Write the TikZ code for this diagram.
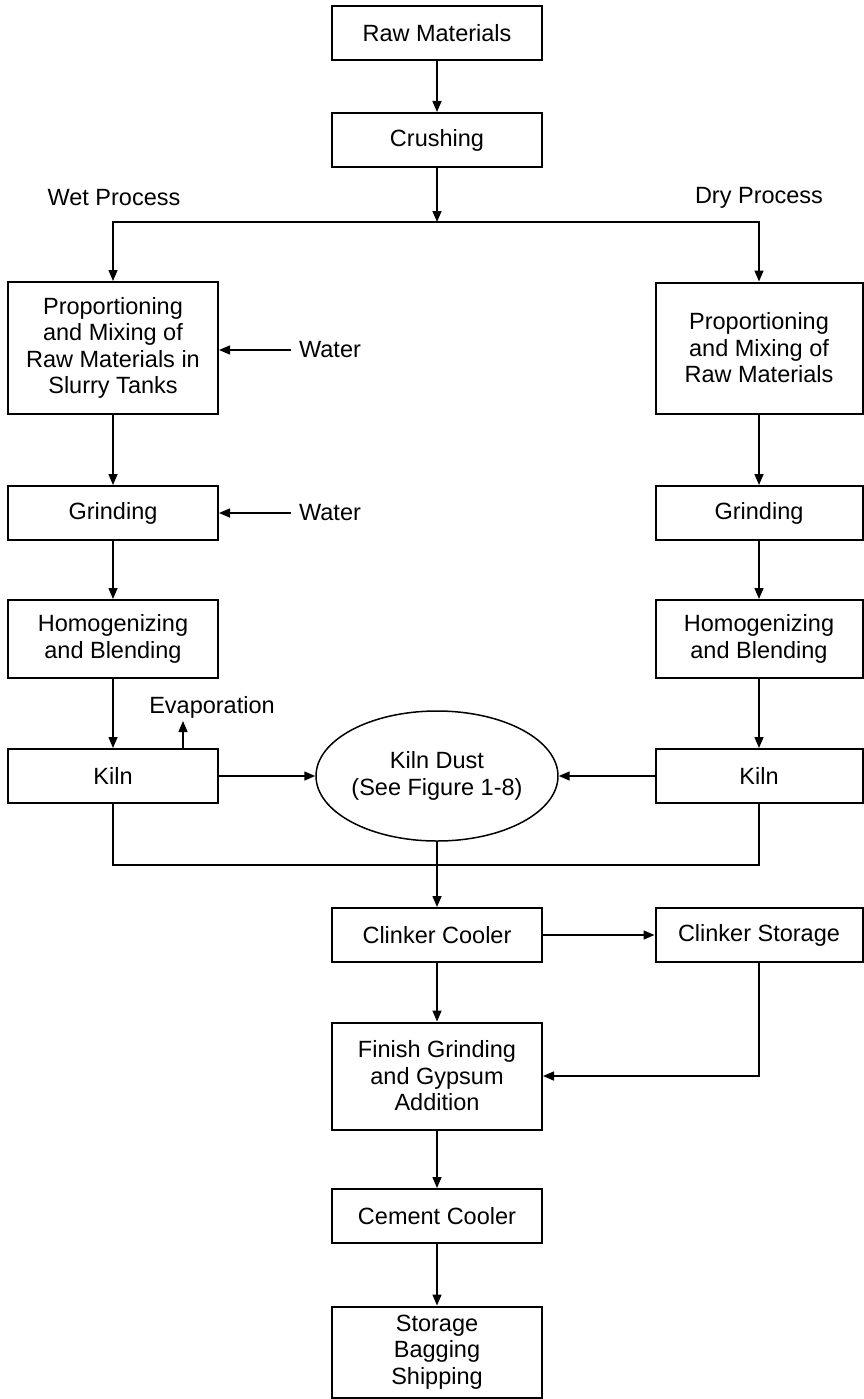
\documentclass[tikz,border=0pt]{standalone}
\usepackage{fontspec}
\setmainfont{Liberation Sans}
\usetikzlibrary{arrows.meta,shapes.geometric}
\begin{document}
\begin{tikzpicture}[x=1pt,y=-1pt,
  every node/.style={font=\fontsize{23.5pt}{26.5pt}\selectfont},
  box/.style={draw,line width=2pt,minimum width=210pt,minimum height=54pt,
    inner sep=0pt,align=center},
  rbox/.style={box,minimum width=207pt},
  label/.style={inner sep=0pt},
  link/.style={line width=1.5pt},
  arr/.style={link,-{Triangle[length=11pt,width=9pt]}}]
\useasboundingbox (0,0) rectangle (864,1399);

% main column, top
\node[box] (raw) at (437,33) {Raw Materials};
\node[box] (crush) at (437,140) {Crushing};
\coordinate (split) at (437,222);

% branch labels
\node[label] (wet) at (114,198) {Wet Process};
\node[label] (dry) at (759,198) {Dry Process};

% wet process column
\node[box,minimum height=132pt] (lprop) at (113,348)
  {Proportioning\\and Mixing of\\Raw Materials in\\Slurry Tanks};
\node[box] (lgrind) at (113,513) {Grinding};
\node[box,minimum height=78pt] (lhom) at (113,639) {Homogenizing\\and Blending};
\node[box] (lkiln) at (113,776) {Kiln};
\node[label] (water1) at (330,350) {Water};
\node[label] (water2) at (330,513) {Water};
\node[label] (evap) at (212,707) {Evaporation};
\coordinate (evtip) at (183,721);

% dry process column
\node[rbox,minimum height=131pt] (rprop) at (759,348)
  {Proportioning\\and Mixing of\\Raw Materials};
\node[rbox] (rgrind) at (759,513) {Grinding};
\node[rbox,minimum height=78pt] (rhom) at (759,639) {Homogenizing\\and Blending};
\node[rbox] (rkiln) at (759,776) {Kiln};

% kiln dust
\node[draw,ellipse,line width=1.5pt,minimum width=232pt,minimum height=130pt,
  inner sep=0pt,align=center] (dust) at (437,776) {Kiln Dust\\(See Figure 1-8)};
\coordinate (merge) at (437,865);

% main column, bottom
\node[box] (cooler) at (437,935) {Clinker Cooler};
\node[rbox] (storage) at (759,935) {Clinker Storage};
\node[box,minimum height=107pt] (finish) at (437,1076)
  {Finish Grinding\\and Gypsum\\Addition};
\node[box] (cement) at (437,1216) {Cement Cooler};
\node[box,minimum height=91pt] (ship) at (437,1352) {Storage\\Bagging\\Shipping};

% connectors
\draw[arr] (raw) -- (crush);
\draw[arr] (crush) -- (split);
\draw[arr] (split) -| (lprop.north);
\draw[arr] (split) -| (rprop.north);

\draw[arr] (lprop) -- (lgrind);
\draw[arr] (lgrind) -- (lhom);
\draw[arr] (lhom) -- (lkiln);
\draw[arr] ([xshift=-8pt]water1.west) -- (lprop.east |- water1.west);
\draw[arr] ([xshift=-8pt]water2.west) -- (lgrind.east);
\draw[arr] (lkiln.north -| evtip) -- (evtip);

\draw[arr] (rprop) -- (rgrind);
\draw[arr] (rgrind) -- (rhom);
\draw[arr] (rhom) -- (rkiln);

\draw[arr] (lkiln) -- (dust);
\draw[arr] (rkiln) -- (dust);
\draw[link] (lkiln.south) |- (merge) -| (rkiln.south);
\draw[arr] (dust) -- (cooler);

\draw[arr] (cooler) -- (storage);
\draw[arr] (storage.south) |- (finish.east);
\draw[arr] (cooler) -- (finish);
\draw[arr] (finish) -- (cement);
\draw[arr] (cement) -- (ship);
\end{tikzpicture}
\end{document}
